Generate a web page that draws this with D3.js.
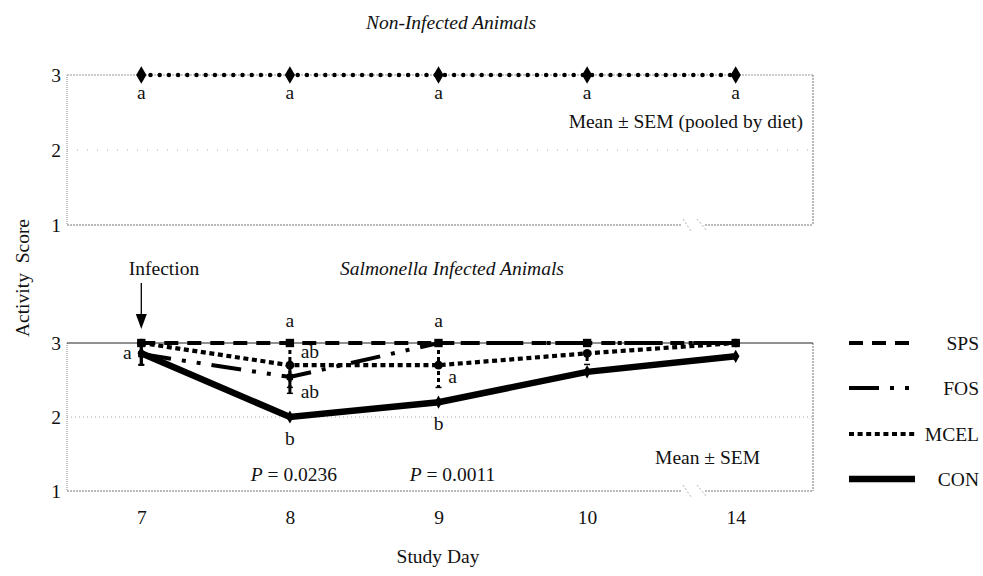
<!DOCTYPE html>
<html>
<head>
<meta charset="utf-8">
<script src="https://cdn.jsdelivr.net/npm/d3@7/dist/d3.min.js"></script>
<style>
  html, body { margin: 0; padding: 0; background: #fff; }
  svg { display: block; }
  text { font-family: "Liberation Serif", "Times New Roman", serif; fill: #111; }
</style>
</head>
<body>
<svg id="chart" width="983" height="576"></svg>
<script>
// ---------- DATA ----------
const days = ["7", "8", "9", "10", "14"];
const yTicks = [1, 2, 3];

const nonInfected = [3, 3, 3, 3, 3];
const nonInfectedLetters = ["a", "a", "a", "a", "a"];

const seriesNames = ["SPS", "FOS", "MCEL", "CON"];
const spsValues  = [3.0, 3.0, 3.0, 3.0, 3.0];
const fosValues  = [2.85, 2.54, 3.0, 3.0, 3.0];
const mcelValues = [3.0, 2.70, 2.70, 2.86, 3.0];
const conValues  = [2.86, 2.0, 2.20, 2.61, 2.82];

const spsSem  = [0, 0, 0, 0, 0];
const fosSem  = [0.15, 0.22, 0, 0, 0];
const mcelSem = [0, 0.3, 0.3, 0.15, 0];
const conSem  = [0.15, 0, 0, 0, 0];

// letters: [day, value, text, placement]
const infectedLetters = [
  ["7", 2.86, "a", "left"],
  ["8", 3.0, "a", "above"],
  ["8", 2.70, "ab", "rightHigh"],
  ["8", 2.54, "ab", "rightLow"],
  ["8", 2.0, "b", "below"],
  ["9", 3.0, "a", "above"],
  ["9", 2.70, "a", "right"],
  ["9", 2.20, "b", "below"]
];
const pValues = [["8", "0.0236"], ["9", "0.0011"]];

// ---------- LAYOUT ----------
const svg = d3.select("#chart");
const left = 67, right = 810;
const x = d3.scalePoint().domain(days).range([left, right]).padding(0.5);
const yTop = d3.scaleLinear().domain([1, 3]).range([225, 75]);
const yBot = d3.scaleLinear().domain([1, 3]).range([491, 343]);

const FS = 19.5;
const TFS = 19.5;

// ---------- helper: frame ----------
function frame(y, solidTop) {
  const g = svg.append("g");
  const gy = y.range();
  const yB = gy[0], yT = gy[1];
  const brk1 = 682, brk2 = 705;
  g.append("line").attr("x1", left).attr("x2", brk1).attr("y1", yB).attr("y2", yB)
    .attr("stroke", "#777").attr("stroke-width", 1).attr("stroke-dasharray", "2 1");
  g.append("line").attr("x1", brk2).attr("x2", right + 3).attr("y1", yB).attr("y2", yB)
    .attr("stroke", "#777").attr("stroke-width", 1).attr("stroke-dasharray", "2 1");
  [[683, 691], [697, 707]].forEach(([a, b]) => {
    g.append("line").attr("x1", a).attr("x2", b).attr("y1", yB - 6).attr("y2", yB + 6)
      .attr("stroke", "#999").attr("stroke-width", 0.8).attr("stroke-dasharray", "2 2");
  });
  g.append("line").attr("x1", left).attr("x2", left).attr("y1", yT).attr("y2", yB)
    .attr("stroke", "#888").attr("stroke-width", 1).attr("stroke-dasharray", "1 1");
  g.append("line").attr("x1", right + 3).attr("x2", right + 3).attr("y1", yT).attr("y2", yB)
    .attr("stroke", "#777").attr("stroke-width", 1).attr("stroke-dasharray", "2 1");
  if (solidTop) {
    g.append("line").attr("x1", left).attr("x2", right + 3).attr("y1", yT).attr("y2", yT)
      .attr("stroke", "#222").attr("stroke-width", 1);
  } else {
    g.append("line").attr("x1", left).attr("x2", right + 3).attr("y1", yT).attr("y2", yT)
      .attr("stroke", "#999").attr("stroke-width", 1).attr("stroke-dasharray", "2 1");
  }
  g.append("line").attr("x1", left).attr("x2", right + 3).attr("y1", y(2)).attr("y2", y(2))
    .attr("stroke", "#aaa").attr("stroke-width", 1).attr("stroke-dasharray", solidTop ? "1 3" : "1 9");
  const ax = svg.append("g").attr("transform", `translate(${left - 6},0)`)
    .call(d3.axisLeft(y).tickValues(yTicks).tickFormat(d3.format("d")).tickSize(0).tickPadding(0));
  ax.select(".domain").remove();
  ax.selectAll("text").attr("font-size", FS).attr("font-family", "Liberation Serif").attr("fill", "#111");
}

frame(yTop, false);
frame(yBot, true);

// ---------- TOP PANEL ----------
svg.append("text").attr("x", 451).attr("y", 29).attr("text-anchor", "middle")
  .attr("font-size", TFS).attr("font-style", "italic").text("Non-Infected Animals");

const lineTop = d3.line().x((d, i) => x(days[i])).y(d => yTop(d));
svg.append("path").datum(nonInfected).attr("d", lineTop)
  .attr("fill", "none").attr("stroke", "#000").attr("stroke-width", 4.5)
  .attr("stroke-linecap", "round").attr("stroke-dasharray", "0 9.2");
svg.append("g").selectAll("path").data(nonInfected).join("path")
  .attr("transform", (d, i) => `translate(${x(days[i])},${yTop(d)})`)
  .attr("d", d3.symbol(d3.symbolDiamond, 90)).attr("fill", "#000");
svg.append("g").selectAll("text").data(nonInfectedLetters).join("text")
  .attr("x", (d, i) => x(days[i])).attr("y", (d, i) => yTop(nonInfected[i]) + 24)
  .attr("text-anchor", "middle").attr("font-size", FS).text(d => d);

svg.append("text").attr("x", 803).attr("y", 128).attr("text-anchor", "end")
  .attr("font-size", FS).text("Mean \u00b1 SEM (pooled by diet)");

// ---------- BOTTOM PANEL ----------
svg.append("text").attr("x", 452).attr("y", 275).attr("text-anchor", "middle")
  .attr("font-size", TFS).attr("font-style", "italic").text("Salmonella Infected Animals");
svg.append("text").attr("x", 164).attr("y", 275).attr("text-anchor", "middle")
  .attr("font-size", FS).text("Infection");
const ax7 = x("7");
svg.append("line").attr("x1", ax7).attr("x2", ax7).attr("y1", 283).attr("y2", 318)
  .attr("stroke", "#000").attr("stroke-width", 1.3);
svg.append("path").attr("d", `M${ax7 - 5.5},${314} L${ax7 + 5.5},${314} L${ax7},${329} Z`).attr("fill", "#000");

const styles = {
  SPS:  { dash: "14 9", width: 4, symbol: d3.symbolSquare, size: 70 },
  FOS:  { dash: "30 11 4 11 4 11", width: 4, symbol: d3.symbolSquare, size: 40 },
  MCEL: { dash: "5 3.6", width: 4.2, symbol: d3.symbolCircle, size: 60 },
  CON:  { dash: null, width: 6.5, symbol: d3.symbolDiamond, size: 50 }
};
const seriesData = {
  SPS: [spsValues, spsSem], FOS: [fosValues, fosSem],
  MCEL: [mcelValues, mcelSem], CON: [conValues, conSem]
};
const lineBot = d3.line().x((d, i) => x(days[i])).y(d => yBot(d));
["CON", "MCEL", "FOS", "SPS"].forEach(name => {
  const [vals, sem] = seriesData[name];
  const st = styles[name];
  const g = svg.append("g");
  vals.forEach((v, i) => {
    if (sem[i] > 0) {
      g.append("line").attr("x1", x(days[i])).attr("x2", x(days[i]))
        .attr("y1", yBot(Math.min(3, v + sem[i]))).attr("y2", yBot(v - sem[i]))
        .attr("stroke", "#000").attr("stroke-width", 3)
        .attr("stroke-dasharray", name === "MCEL" ? "4 3" : null);
      g.append("line").attr("x1", x(days[i]) - 3).attr("x2", x(days[i]) + 3)
        .attr("y1", yBot(v - sem[i])).attr("y2", yBot(v - sem[i]))
        .attr("stroke", "#000").attr("stroke-width", 1.5);
    }
  });
  g.append("path").datum(vals).attr("d", lineBot).attr("fill", "none")
    .attr("stroke", "#000").attr("stroke-width", st.width)
    .attr("stroke-dasharray", st.dash);
  g.selectAll("path.m").data(vals).join("path").attr("class", "m")
    .attr("transform", (d, i) => `translate(${x(days[i])},${yBot(d)})`)
    .attr("d", d3.symbol(st.symbol, st.size)).attr("fill", "#000");
});

// letters
const offs = {
  above: [0, -16], below: [0, 28], left: [-14, 6],
  rightHigh: [20, -7], rightLow: [20, 21], right: [14, 18]
};
infectedLetters.forEach(([day, v, t, p]) => {
  const o = offs[p];
  svg.append("text").attr("x", x(day) + o[0]).attr("y", yBot(v) + o[1])
    .attr("text-anchor", "middle").attr("font-size", FS).text(t);
});

// P values
pValues.forEach(([day, p]) => {
  const t = svg.append("text").attr("x", x(day) + (day === "8" ? 4 : 14)).attr("y", 481)
    .attr("text-anchor", "middle").attr("font-size", FS);
  t.append("tspan").attr("font-style", "italic").text("P");
  t.append("tspan").text(" = " + p);
});
svg.append("text").attr("x", 760).attr("y", 464).attr("text-anchor", "end")
  .attr("font-size", FS).text("Mean \u00b1 SEM");

// x axis
const xa = svg.append("g").attr("transform", `translate(0,${yBot(1)})`)
  .call(d3.axisBottom(x).tickSize(0).tickPadding(19));
xa.select(".domain").remove();
xa.selectAll("text").attr("font-size", FS).attr("font-family", "Liberation Serif").attr("fill", "#111");

svg.append("text").attr("x", 438).attr("y", 563).attr("text-anchor", "middle")
  .attr("font-size", FS).text("Study Day");
svg.append("text").attr("transform", "translate(29,278) rotate(-90)").attr("text-anchor", "middle")
  .attr("font-size", FS).attr("xml:space", "preserve").text("Activity  Score");

// legend
const legY = [343, 388, 434, 479];
seriesNames.forEach((name, i) => {
  const st = styles[name];
  svg.append("line").attr("x1", 849).attr("x2", 915).attr("y1", legY[i]).attr("y2", legY[i])
    .attr("stroke", "#000").attr("stroke-width", st.width).attr("stroke-dasharray", st.dash);
  svg.append("text").attr("x", 979).attr("y", legY[i] + 7).attr("text-anchor", "end")
    .attr("font-size", FS).text(name);
});
</script>
</body>
</html>
